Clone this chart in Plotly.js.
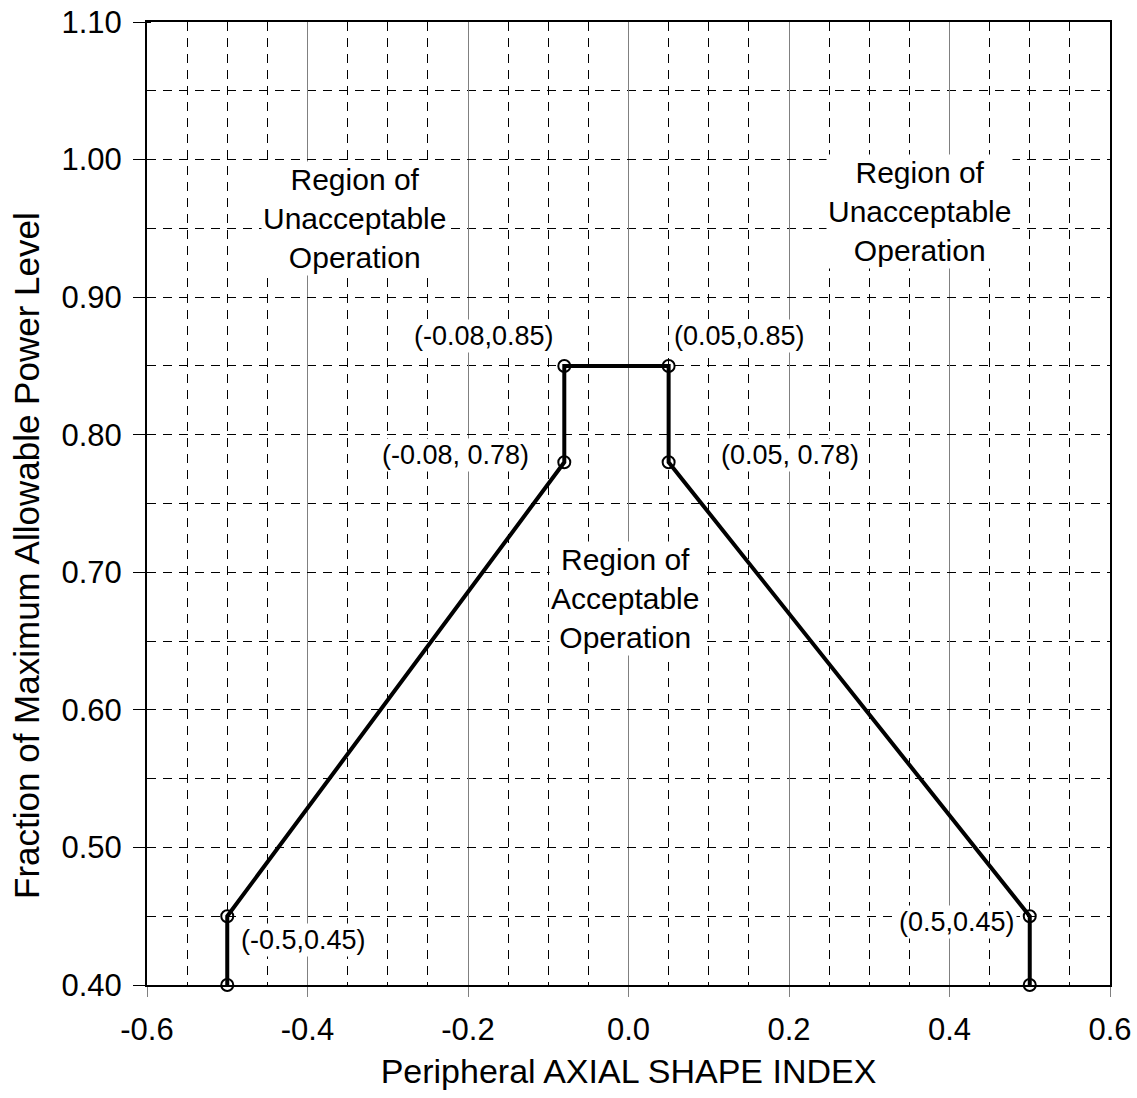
<!DOCTYPE html>
<html>
<head>
<meta charset="utf-8">
<script src="https://cdn.plot.ly/plotly-3.0.1.min.js"></script>
<style>html,body{margin:0;padding:0;background:#fff;}#chart{width:1137px;height:1098px;}</style>
</head>
<body>
<div id="chart"></div>
<script>
// Data
const asiValues = [-0.5, -0.5, -0.08, -0.08, 0.05, 0.05, 0.5, 0.5];
const powerValues = [0.40, 0.45, 0.78, 0.85, 0.85, 0.78, 0.45, 0.40];

const xTickVals = [-0.6, -0.4, -0.2, 0.0, 0.2, 0.4, 0.6];
const xTickLabels = ["-0.6", "-0.4", "-0.2", "0.0", "0.2", "0.4", "0.6"];
const yTickVals = [0.40, 0.50, 0.60, 0.70, 0.80, 0.90, 1.00, 1.10];
const yTickLabels = ["0.40", "0.50", "0.60", "0.70", "0.80", "0.90", "1.00", "1.10"];

const pointLabels = ["(-0.5,0.45)", "(-0.08, 0.78)", "(-0.08,0.85)", "(0.05,0.85)", "(0.05, 0.78)", "(0.5,0.45)"];
const pointLabelX = [-0.405, -0.216, -0.18, 0.138, 0.201, 0.409];
const pointLabelY = [0.433, 0.785, 0.872, 0.872, 0.785, 0.446];

const regionLabels = ["Region of<br>Unacceptable<br>Operation", "Region of<br>Unacceptable<br>Operation", "Region of<br>Acceptable<br>Operation"];
const regionLabelX = [-0.341, 0.363, -0.004];
const regionLabelY = [0.957, 0.962, 0.681];

const xTitle = 'Peripheral AXIAL SHAPE INDEX';
const yTitle = 'Fraction of Maximum Allowable Power Level';

const FONT = "Liberation Sans, Arial, sans-serif";

const annotations = [];
pointLabels.forEach((t, i) => annotations.push({
  x: pointLabelX[i], y: pointLabelY[i], xref: 'x', yref: 'y', text: t, showarrow: false,
  font: {family: FONT, size: 27, color: '#000'}, bgcolor: '#fff', borderpad: 1
}));
regionLabels.forEach((t, i) => annotations.push({
  x: regionLabelX[i], y: regionLabelY[i], xref: 'x', yref: 'y', text: t, showarrow: false,
  font: {family: FONT, size: 30, color: '#000'}, bgcolor: '#fff', borderpad: 1
}));
// y-axis title (placed as in the reference, slightly below the plot centre)
annotations.push({
  x: -0.1257, y: 0.4465, xref: 'paper', yref: 'paper', text: yTitle, textangle: -90,
  showarrow: false, xanchor: 'center', yanchor: 'middle',
  font: {family: FONT, size: 35, color: '#000'}
});

const trace = {
  x: asiValues, y: powerValues, type: 'scatter', mode: 'lines+markers',
  line: {color: '#000', width: 4},
  marker: {symbol: 'circle-open', size: 12, color: '#000', line: {color: '#000', width: 2}},
  cliponaxis: false, hoverinfo: 'skip'
};

const layout = {
  width: 1137, height: 1098,
  margin: {l: 147, r: 27, t: 22, b: 113, pad: 0},
  paper_bgcolor: '#fff', plot_bgcolor: '#fff',
  showlegend: false,
  font: {family: FONT, color: '#000'},
  xaxis: {
    range: [-0.6, 0.6], tickmode: 'array', tickvals: xTickVals, ticktext: xTickLabels,
    ticks: 'outside', ticklen: 10, tickwidth: 1, tickcolor: '#808080',
    tickfont: {family: FONT, size: 31, color: '#000'}, ticklabelstandoff: 6,
    showgrid: true, gridcolor: '#808080', gridwidth: 1,
    minor: {dtick: 0.05, tick0: 0, ticks: '', showgrid: true, gridcolor: '#000', gridwidth: 1, griddash: '9px,7px'},
    showline: true, linecolor: '#000', linewidth: 2, mirror: true, zeroline: false,
    title: {text: xTitle, font: {family: FONT, size: 34, color: '#000'}, standoff: 13},
    automargin: false, fixedrange: true
  },
  yaxis: {
    range: [0.40, 1.10], tickmode: 'array', tickvals: yTickVals, ticktext: yTickLabels,
    ticks: 'outside', ticklen: 12, tickwidth: 1, tickcolor: '#000',
    tickfont: {family: FONT, size: 31, color: '#000'}, ticklabelstandoff: 5,
    showgrid: true, gridcolor: '#000', gridwidth: 1, griddash: '9px,7px',
    minor: {dtick: 0.05, tick0: 0, ticks: 'inside', ticklen: 4, tickcolor: '#000', showgrid: true, gridcolor: '#000', gridwidth: 1, griddash: '9px,7px'},
    showline: true, linecolor: '#000', linewidth: 2, mirror: true, zeroline: false,
    automargin: false, fixedrange: true
  },
  annotations: annotations
};

Plotly.newPlot('chart', [trace], layout, {displayModeBar: false, staticPlot: true});
</script>
</body>
</html>
